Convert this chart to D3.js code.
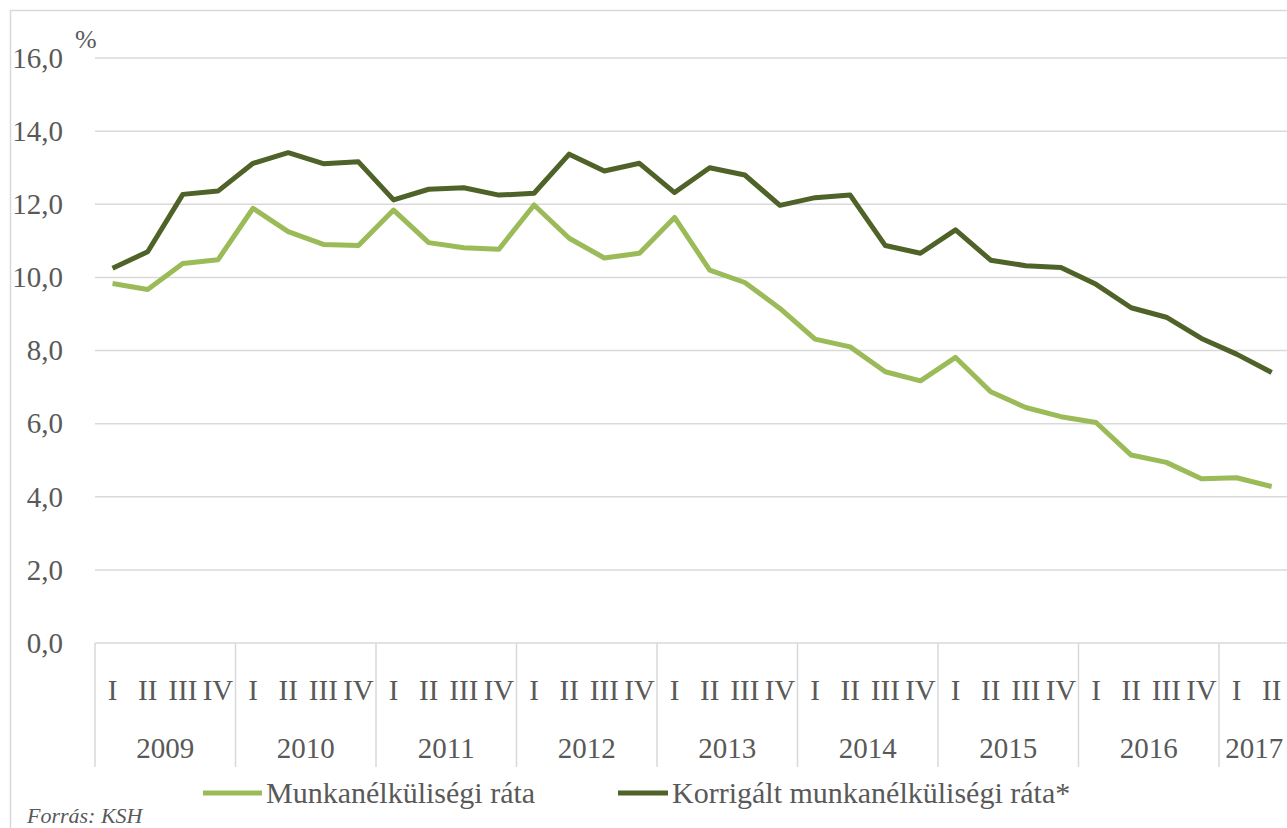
<!DOCTYPE html>
<html><head><meta charset="utf-8">
<script src="https://cdn.jsdelivr.net/npm/d3@7"></script>
<style>
html,body{margin:0;padding:0;background:#fff;overflow:hidden;}
svg{display:block;font-family:"Liberation Serif","DejaVu Serif",serif;}
</style></head><body>
<svg id="c" width="1287" height="828"></svg>
<script>
const years = ["2009","2010","2011","2012","2013","2014","2015","2016","2017"];
const quarterNames = ["I","II","III","IV"];
const quarterCount = [4,4,4,4,4,4,4,4,2];
const seriesNames = ["Munkanélküliségi ráta","Korrigált munkanélküliségi ráta*"];
const unemployment = [9.83,9.67,10.38,10.48,11.89,11.25,10.90,10.87,11.84,10.95,10.81,10.77,11.98,11.07,10.53,10.66,11.64,10.20,9.86,9.15,8.31,8.10,7.42,7.17,7.81,6.87,6.44,6.19,6.03,5.14,4.94,4.49,4.52,4.28];
const corrected = [10.25,10.70,12.27,12.36,13.12,13.41,13.11,13.16,12.12,12.41,12.45,12.25,12.30,13.37,12.91,13.12,12.32,13.00,12.80,11.97,12.18,12.25,10.87,10.66,11.30,10.47,10.32,10.27,9.81,9.17,8.91,8.33,7.90,7.40];
const yTicks = [0,2,4,6,8,10,12,14,16];
const colors = ["#9bbb59","#4f6228"];

const svg = d3.select("#c");
const textColor = "#595959";
const gridColor = "#d9d9d9";

// outer frame
svg.append("rect").attr("x",10.5).attr("y",10.5).attr("width",1400).attr("height",900)
  .attr("fill","none").attr("stroke","#d9d9d9").attr("stroke-width",1.5);

// category keys
const cats = [];
years.forEach((y,yi)=>{ for(let q=0;q<quarterCount[yi];q++) cats.push(y+"-"+q); });

const left = 95, yearW = 140.5;
const x = d3.scaleBand().domain(cats).range([left, left + yearW*cats.length/4]).padding(0);
const y = d3.scaleLinear().domain([0,16]).range([643,58]);

// gridlines
svg.append("g").selectAll("line").data(yTicks.filter(d=>d>0)).join("line")
  .attr("x1",left).attr("x2",1300).attr("y1",d=>y(d)).attr("y2",d=>y(d))
  .attr("stroke",gridColor).attr("stroke-width",1.5);

// y axis labels
const yAxis = d3.axisLeft(y).tickValues(yTicks).tickSize(0).tickPadding(0)
  .tickFormat(d=>d3.format(".1f")(d).replace(".",","));
const ya = svg.append("g").attr("transform","translate(63,0)").call(yAxis);
ya.select(".domain").remove();
ya.selectAll("text").attr("fill",textColor).attr("font-size",29)
  .attr("font-family","Liberation Serif, serif").attr("dy","0.32em");

svg.append("text").attr("x",75).attr("y",48).attr("fill",textColor)
  .attr("font-size",26).text("%");

// category axis: baseline + separators
svg.append("line").attr("x1",left).attr("x2",1300).attr("y1",y(0)).attr("y2",y(0))
  .attr("stroke",gridColor).attr("stroke-width",1.5);
let idx = 0;
const bounds = [];
years.forEach((yr,yi)=>{ bounds.push({yr, start: cats[idx], n: quarterCount[yi]}); idx += quarterCount[yi]; });
svg.append("g").selectAll("line").data(bounds).join("line")
  .attr("x1",d=>x(d.start)).attr("x2",d=>x(d.start))
  .attr("y1",y(0)).attr("y2",767).attr("stroke",gridColor).attr("stroke-width",1.5);

// quarter labels
svg.append("g").selectAll("text").data(cats).join("text")
  .attr("x",d=>x(d)+x.bandwidth()/2).attr("y",700)
  .attr("text-anchor","middle").attr("fill",textColor).attr("font-size",29)
  .text(d=>quarterNames[+d.split("-")[1]]);

// year labels
svg.append("g").selectAll("text").data(bounds).join("text")
  .attr("x",d=>x(d.start)+x.bandwidth()*d.n/2).attr("y",758)
  .attr("text-anchor","middle").attr("fill",textColor).attr("font-size",29)
  .text(d=>d.yr);

// lines
const line = d3.line().x((d,i)=>x(cats[i])+x.bandwidth()/2).y(d=>y(d));
[unemployment, corrected].forEach((s,si)=>{
  svg.append("path").datum(s).attr("d",line).attr("fill","none")
    .attr("stroke",colors[si]).attr("stroke-width",5).attr("stroke-linejoin","round");
});

// legend
const leg = [{x0:203,x1:262,tx:266},{x0:618,x1:668,tx:672}];
leg.forEach((l,i)=>{
  svg.append("line").attr("x1",l.x0).attr("x2",l.x1).attr("y1",793).attr("y2",793)
    .attr("stroke",colors[i]).attr("stroke-width",5);
  svg.append("text").attr("x",l.tx).attr("y",803).attr("fill",textColor)
    .attr("font-size",30).text(seriesNames[i]);
});

svg.append("text").attr("x",27).attr("y",823).attr("fill",textColor)
  .attr("font-size",22).attr("font-style","italic").text("Forrás:  KSH");
</script>
</body></html>
